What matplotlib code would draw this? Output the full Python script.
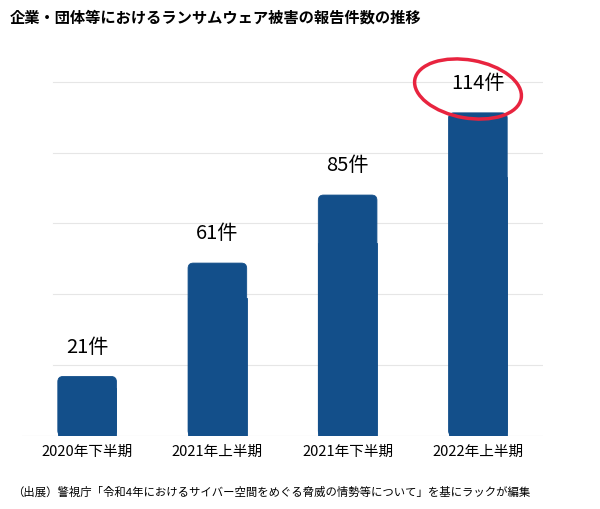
import matplotlib
matplotlib.use("Agg")
import matplotlib.pyplot as plt
from matplotlib.patches import FancyBboxPatch, Rectangle, Ellipse
from matplotlib.transforms import IdentityTransform

plt.rcParams["font.family"] = "Noto Sans CJK JP"

periods = ["2020年下半期", "2021年上半期", "2021年下半期", "2022年上半期"]
counts = [21, 61, 85, 114]
grid_vals = [25, 50, 75, 100, 125]

bar_color = "#134f8a"
fig = plt.figure(figsize=(6, 5.1), dpi=100)
ax = fig.add_axes([22 / 600, 73 / 510, 521 / 600, 377 / 510])
ax.set_xlim(-0.5, 3.5)
ax.set_ylim(0, 133)
w = 0.45
aspect = (133 / 377) / (4 / 521)
for i, v in enumerate(counts):
    ax.add_patch(FancyBboxPatch((i - w / 2, 0), w, v, boxstyle="round,pad=0,rounding_size=0.04",
                                mutation_aspect=aspect, fc=bar_color, ec=bar_color, lw=0.6, zorder=3))
    ax.add_patch(Rectangle((i - w / 2, 0), w, v * 0.8, fc=bar_color, ec=bar_color, lw=0.6, zorder=3))
    ax.text(i, v + 7, f"{v}件", ha="center", va="bottom", fontsize=14.5, zorder=4)
for g in grid_vals:
    ax.axhline(g, xmin=0.06, xmax=1, color="#e6e6e6", lw=0.8, zorder=1)
ax.axhline(0, color="#cccccc", lw=0.8, zorder=2)
ax.set_xticks(range(len(periods)))
ax.set_xticklabels(periods, fontsize=10.5)
ax.tick_params(length=0, pad=6)
ax.set_yticks([])
for s in ax.spines.values():
    s.set_visible(False)

fig.add_artist(Ellipse((468, 510 - 90), 108, 58, angle=-10, transform=IdentityTransform(),
                       fill=False, ec="#e8243f", lw=2.5))
fig.text(10 / 600, 1 - 18 / 510, "企業・団体等におけるランサムウェア被害の報告件数の推移",
         fontsize=11, fontweight="bold", va="center")
fig.text(12 / 600, 1 - 492 / 510,
         "（出展）警視庁「令和4年におけるサイバー空間をめぐる脅威の情勢等について」を基にラックが編集",
         fontsize=8.2, va="center")
fig.savefig("out.png", dpi=100, facecolor="white")
